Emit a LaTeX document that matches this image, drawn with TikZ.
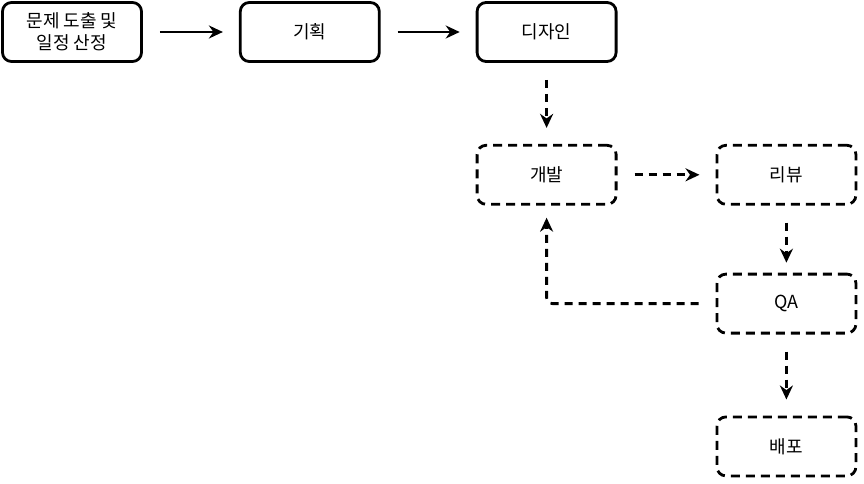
\documentclass[tikz,border=0pt]{standalone}
\usepackage{fontspec}
\setmainfont{Noto Sans CJK KR}
\usetikzlibrary{arrows.meta, positioning}

\begin{document}
\begin{tikzpicture}[
                x=1pt, y=1pt,
                node distance=81pt and 96pt,
                stepbox/.style={rectangle, rounded corners=9pt, draw=black, fill=white,
                            line width=2.8pt, minimum width=139pt, minimum height=59pt,
                            align=center, font=\fontsize{18}{22}\selectfont},
                planbox/.style={stepbox, dash pattern=on 9pt off 6pt},
                arr/.style={-{Stealth[length=14pt, width=13pt]}, line width=2.8pt,
                            shorten <=17pt, shorten >=16pt},
                darr/.style={arr, dash pattern=on 8pt off 6pt}
            ]
                \useasboundingbox (0,0) rectangle (864,-484);
                \node[stepbox] (problem) at (72,-32) {문제 도출 및\\일정 산정};
                \node[stepbox, right=96pt of problem] (plan) {기획};
                \node[stepbox, right=95pt of plan] (design) {디자인};
                \node[planbox, below=81pt of design] (dev) {개발};
                \node[planbox, right=98pt of dev] (review) {리뷰};
                \node[planbox, below=67pt of review] (qa) {QA};
                \node[planbox, below=81pt of qa] (deploy) {배포};

                \draw[arr] (problem) -- (plan);
                \draw[arr] (plan) -- (design);
                \draw[darr] (design) -- (dev);
                \draw[darr] (dev) -- (review);
                \draw[darr, shorten >=10pt] (review) -- (qa);
                \draw[darr] (qa) -- (deploy);
                \draw[darr, rounded corners=6pt, shorten >=12pt] (qa.west) -| (dev.south);
            \end{tikzpicture}
\end{document}
